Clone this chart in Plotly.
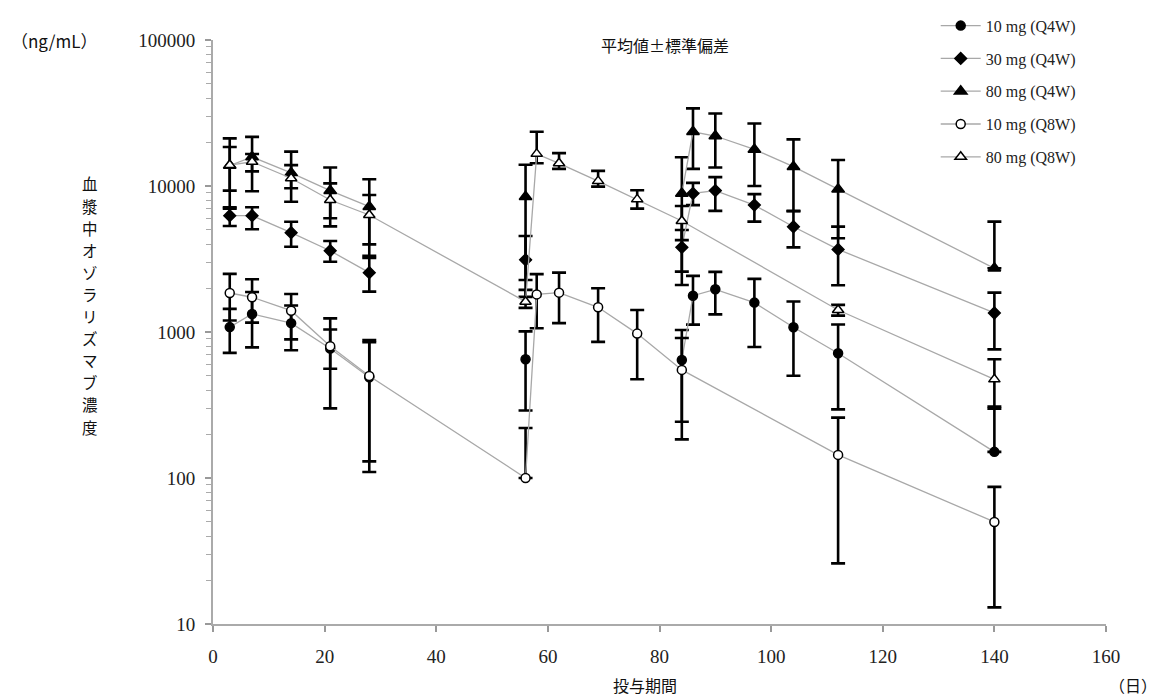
import plotly.graph_objects as go

# ---------------- data ----------------
days_q4w = [3, 7, 14, 21, 28, None, 56, None, 84, 86, 90, 97, 104, 112, 140]
days_q8w = [3, 7, 14, 21, 28, 56, 58, 62, 69, 76, 84, 112, 140]

# 10 mg (Q4W)
c10_q4w = [1080, 1330, 1150, 770, 490, None, 650, None, 643, 1773, 1960, 1590, 1077, 715, 151]
c10_q4w_up = [360, 550, 370, 470, 360, None, 360, None, 390, 650, 620, 720, 540, 410, 157]
c10_q4w_dn = [360, 545, 400, 470, 360, None, 360, None, 400, 650, 640, 800, 575, 420, 0]

# 30 mg (Q4W)
c30_q4w = [6260, 6260, 4790, 3600, 2550, None, 3120, None, 3800, 8900, 9300, 7400, 5260, 3680, 1350]
c30_q4w_up = [900, 900, 900, 600, 660, None, 1420, None, 1200, 1600, 2200, 1400, 1450, 1590, 510]
c30_q4w_dn = [940, 1200, 950, 570, 660, None, 1380, None, 1210, 1500, 2550, 1700, 1460, 1590, 590]

# 80 mg (Q4W)
c80_q4w = [13800, 15800, 12300, 9290, 7220, None, 8450, None, 8900, 23500, 22000, 17800, 13560, 9490, 2730]
c80_q4w_up = [7400, 5900, 4900, 4100, 3900, None, 5540, None, 6830, 10500, 9400, 9000, 7300, 5580, 2970]
c80_q4w_dn = [6800, 6600, 4500, 4000, 3900, None, 6180, None, 6800, 10400, 8600, 7800, 6800, 5100, 0]

# 10 mg (Q8W)
c10_q8w = [1850, 1730, 1400, 800, 500, 100, 1810, 1860, 1476, 975, 550, 144, 50]
c10_q8w_up = [650, 570, 420, 240, 380, 120, 680, 690, 520, 440, 360, 115, 37]
c10_q8w_dn = [650, 570, 510, 240, 390, 0, 750, 710, 620, 500, 366, 118, 37]

# 80 mg (Q8W)
c80_q8w = [13900, 14650, 11300, 8020, 6330, 1613, 16600, 14300, 10800, 8100, 5760, 1415, 474]
c80_q8w_up = [4600, 1900, 2600, 2400, 2350, 330, 6900, 2500, 1900, 1250, 1530, 120, 176]
c80_q8w_dn = [4600, 2050, 1660, 2000, 2350, 150, 2300, 1200, 900, 1100, 1500, 120, 176]

series_names = ["10 mg (Q4W)", "30 mg (Q4W)", "80 mg (Q4W)", "10 mg (Q8W)", "80 mg (Q8W)"]

x_ticks = [0, 20, 40, 60, 80, 100, 120, 140, 160]
y_ticks = [10, 100, 1000, 10000, 100000]
y_tick_text = ["10", "100", "1000", "10000", "100000"]

y_title_chars = list("血漿中オゾラリズマブ濃度")

# ---------------- styling ----------------
LINE_COL = "#a8a8a8"
SERIF = "Liberation Serif, Times New Roman, serif"
JP = "Noto Sans CJK JP, Noto Sans, sans-serif"

styles = [
    dict(symbol="circle", size=9, color="black"),
    dict(symbol="diamond", size=9, color="black"),
    dict(symbol="triangle-up", size=11, color="black"),
    dict(symbol="circle", size=9, color="white"),
    dict(symbol="triangle-up", size=10, color="white"),
]

data = [
    (days_q4w, c10_q4w, c10_q4w_up, c10_q4w_dn),
    (days_q4w, c30_q4w, c30_q4w_up, c30_q4w_dn),
    (days_q4w, c80_q4w, c80_q4w_up, c80_q4w_dn),
    (days_q8w, c10_q8w, c10_q8w_up, c10_q8w_dn),
    (days_q8w, c80_q8w, c80_q8w_up, c80_q8w_dn),
]

fig = go.Figure()
for i, ((xs, ys, up, dn), name, st) in enumerate(zip(data, series_names, styles)):
    fig.add_trace(go.Scatter(
        x=xs, y=ys, name=name, mode="lines+markers",
        legendgroup=f"g{i}",
        connectgaps=False,
        line=dict(color=LINE_COL, width=1.3),
        marker=dict(symbol=st["symbol"], size=st["size"], color=st["color"],
                    line=dict(color="black", width=1.5)),
        error_y=dict(type="data", symmetric=False, array=up, arrayminus=dn,
                     color="black", thickness=2.6, width=7),
    ))

# page body has an 8px margin: plot area placed at x 213..1106, y 40..624 of the window
fig.update_layout(
    width=1164, height=699,
    paper_bgcolor="white", plot_bgcolor="white",
    margin=dict(l=205, r=66, t=32, b=83, autoexpand=False),
    showlegend=True,
    legend=dict(x=0.797, y=0.999, xref="container", yref="container",
                xanchor="left", yanchor="top",
                bgcolor="rgba(0,0,0,0)", borderwidth=0,
                font=dict(family=SERIF, size=16, color="#222"),
                tracegroupgap=9, itemwidth=40),
    font=dict(family=SERIF, color="#222"),
)

fig.update_xaxes(
    range=[0, 160], tickvals=x_ticks, ticks="outside", ticklen=6, tickwidth=1.5,
    tickcolor="#999", showline=True, linecolor="#aaa", linewidth=2,
    showgrid=False, zeroline=False,
    tickfont=dict(family=SERIF, size=19, color="#222"),
    ticklabelstandoff=8,
)

minor_vals = [m * d for d in [10, 100, 1000, 10000] for m in range(2, 10)]
fig.update_yaxes(
    type="log", range=[1, 5], tickvals=y_ticks, ticktext=y_tick_text,
    ticks="outside", ticklen=6, tickwidth=1.5, tickcolor="#999",
    showline=True, linecolor="#aaa", linewidth=2,
    showgrid=False, zeroline=False,
    minor=dict(tickvals=minor_vals, ticks="outside", ticklen=5,
               tickwidth=1.2, tickcolor="#aaa", showgrid=False),
    tickfont=dict(family=SERIF, size=19, color="#222"),
    ticklabelstandoff=6,
)

annos = []
# vertical y-axis title, one character per row (22 px apart), centred at window y ~305
n = len(y_title_chars)
for k, ch in enumerate(y_title_chars):
    ypx = 305 + (k - (n - 1) / 2) * 22.1          # window pixel
    annos.append(dict(text=ch, x=-0.138, y=(624 - ypx) / 584, xref="paper", yref="paper",
                      showarrow=False, font=dict(family=JP, size=15.5, color="#111"),
                      xanchor="center", yanchor="middle"))
annos += [
    dict(text="（ng/mL）", x=-0.2284, y=1.0, xref="paper", yref="paper",
         showarrow=False, font=dict(family=JP, size=17, color="#111"),
         xanchor="left", yanchor="middle"),
    dict(text="平均値±標準偏差", x=0.506, y=0.992, xref="paper", yref="paper",
         showarrow=False, font=dict(family=JP, size=16, color="#111"),
         xanchor="center", yanchor="middle"),
    dict(text="投与期間", x=0.484, y=-0.104, xref="paper", yref="paper",
         showarrow=False, font=dict(family=JP, size=16, color="#111"),
         xanchor="center", yanchor="middle"),
    dict(text="（日）", x=1.03, y=-0.104, xref="paper", yref="paper",
         showarrow=False, font=dict(family=JP, size=16, color="#111"),
         xanchor="center", yanchor="middle"),
]
fig.update_layout(annotations=annos)

fig.write_html("out.html")
